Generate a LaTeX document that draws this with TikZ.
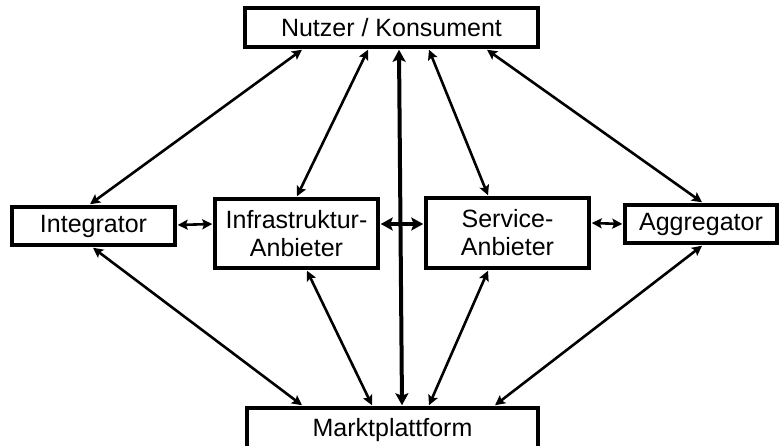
\documentclass[tikz,border=0pt]{standalone}
\usepackage{fontspec}
\setmainfont{Liberation Sans}
\usetikzlibrary{arrows.meta}
\begin{document}
\begin{tikzpicture}[x=1pt,y=-1pt,
  box/.style={draw,line width=3.5pt,inner sep=0pt,align=center,font=\fontsize{25}{28}\selectfont},
  link/.style={line width=2.6pt,{Stealth[length=10pt,width=10pt,inset=2pt]}-{Stealth[length=10pt,width=10pt,inset=2pt]}},
  biglink/.style={line width=4pt,{Stealth[length=12pt,width=13pt,inset=2.5pt]}-{Stealth[length=12pt,width=13pt,inset=2.5pt]}}]
\useasboundingbox (0,0) rectangle (779,446);
\node[box,minimum width=293pt,minimum height=39pt] (nutzer) at (391.5,27.5) {Nutzer / Konsument};
\node[box,minimum width=291pt,minimum height=44pt] (markt) at (392.5,430) {Marktplattform};
\node[box,minimum width=163pt,minimum height=38pt] (integ) at (93.5,226) {Integrator};
\node[box,minimum width=163pt,minimum height=69pt] (infra) at (296.5,233.5) {Infrastruktur-\\Anbieter};
\node[box,minimum width=163pt,minimum height=70pt] (serv) at (507.5,233) {Service-\\Anbieter};
\node[box,minimum width=152pt,minimum height=38pt] (aggr) at (701,224) {Aggregator};
% from Nutzer
\draw[link] ([xshift=-89.5pt,yshift=-1pt]nutzer.south) -- ([xshift=-3.5pt,yshift=1pt]integ.north);
\draw[link] ([xshift=-23.5pt,yshift=-1pt]nutzer.south) -- ([xshift=0.5pt,yshift=1pt]infra.north);
\draw[link] ([xshift=37.5pt,yshift=-1pt]nutzer.south) -- ([xshift=-19.5pt,yshift=1pt]serv.north);
\draw[link] ([xshift=95.5pt,yshift=-1pt]nutzer.south) -- ([xshift=1pt,yshift=1pt]aggr.north);
\draw[biglink] ([xshift=7.5pt,yshift=-1pt]nutzer.south) -- ([xshift=9.5pt,yshift=1pt]markt.north);
% from Marktplattform
\draw[link] ([xshift=-90.5pt,yshift=1pt]markt.north) -- ([xshift=-0.5pt,yshift=-1pt]integ.south);
\draw[link] ([xshift=-20.5pt,yshift=1pt]markt.north) -- ([xshift=10.5pt,yshift=-1pt]infra.south);
\draw[link] ([xshift=36.5pt,yshift=1pt]markt.north) -- ([xshift=-19.5pt,yshift=-1pt]serv.south);
\draw[link] ([xshift=102.5pt,yshift=1pt]markt.north) -- ([xshift=1pt,yshift=-1pt]aggr.south);
% horizontal
\draw[link] ([xshift=1pt,yshift=1pt]integ.east) -- ([xshift=-1pt,yshift=9.5pt]infra.west);
\draw[biglink] ([xshift=1pt,yshift=9.5pt]infra.east) -- ([xshift=-1pt,yshift=9pt]serv.west);
\draw[link] ([xshift=1pt,yshift=10pt]serv.east) -- ([xshift=-1pt]aggr.west);
\end{tikzpicture}
\end{document}
